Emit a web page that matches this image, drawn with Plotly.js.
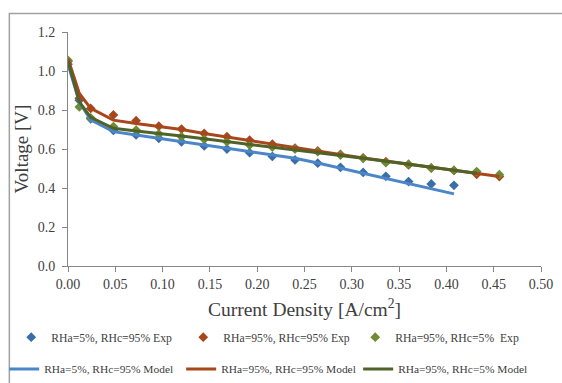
<!DOCTYPE html>
<html>
<head>
<meta charset="utf-8">
<script src="https://cdn.plot.ly/plotly-3.0.1.min.js"></script>
<style>
  html, body { margin: 0; padding: 0; background: #ffffff; }
  #chart { width: 562px; height: 383px; }
</style>
</head>
<body>
<div id="chart"></div>
<script>
// Current density values [A/cm2]
const currentDensity = [0, 0.012, 0.024, 0.048, 0.072, 0.096, 0.12, 0.144, 0.168, 0.192, 0.216, 0.24, 0.264, 0.288, 0.312, 0.336, 0.36, 0.384, 0.408, 0.432, 0.456];

// Experimental voltages [V]
const expBlue  = [1.035, 0.85, 0.755, 0.695, 0.672, 0.655, 0.637, 0.616, 0.600, 0.581, 0.562, 0.544, 0.527, 0.506, 0.480, 0.460, 0.433, 0.421, 0.414];
const expRed   = [1.05, 0.86, 0.808, 0.775, 0.745, 0.717, 0.702, 0.680, 0.663, 0.645, 0.625, 0.605, 0.590, 0.572, 0.555, 0.535, 0.518, 0.503, 0.490, 0.470, 0.459];
const expGreen = [1.055, 0.816, 0.760, 0.715, 0.697, 0.677, 0.663, 0.650, 0.637, 0.620, 0.610, 0.600, 0.586, 0.569, 0.552, 0.530, 0.522, 0.502, 0.490, 0.484, 0.468];

// Model voltages [V]
const modelBlue  = [1.035, 0.84, 0.75, 0.689, 0.672, 0.655, 0.641, 0.623, 0.605, 0.588, 0.570, 0.553, 0.528, 0.502, 0.475, 0.449, 0.422, 0.395, 0.370];
const modelRed   = [1.063, 0.885, 0.808, 0.748, 0.731, 0.717, 0.700, 0.679, 0.661, 0.643, 0.625, 0.607, 0.586, 0.570, 0.554, 0.538, 0.522, 0.507, 0.491, 0.475, 0.459];
const modelGreen = [1.05, 0.842, 0.762, 0.706, 0.692, 0.680, 0.667, 0.652, 0.638, 0.624, 0.610, 0.597, 0.583, 0.568, 0.553, 0.537, 0.522, 0.507, 0.491, 0.476];

const names = {
  expBlue: 'RHa=5%, RHc=95% Exp',
  expRed: 'RHa=95%, RHc=95% Exp',
  expGreen: 'RHa=95%, RHc=5%  Exp',
  modelBlue: 'RHa=5%, RHc=95% Model',
  modelRed: 'RHa=95%, RHc=95% Model',
  modelGreen: 'RHa=95%, RHc=5% Model'
};

const xTickVals = [0, 0.05, 0.10, 0.15, 0.20, 0.25, 0.30, 0.35, 0.40, 0.45, 0.50];
const xTickText = ['0.00', '0.05', '0.10', '0.15', '0.20', '0.25', '0.30', '0.35', '0.40', '0.45', '0.50'];
const yTickVals = [0, 0.2, 0.4, 0.6, 0.8, 1.0, 1.2];
const yTickText = ['0.0', '0.2', '0.4', '0.6', '0.8', '1.0', '1.2'];

const FONT = 'Liberation Serif';
const TXT = '#404040';

function xs(arr) { return currentDensity.slice(0, arr.length); }

function expTrace(y, name, color) {
  return {
    x: xs(y), y: y, name: name, type: 'scatter', mode: 'markers',
    marker: { symbol: 'diamond', size: 7.5, color: color },
    legend: 'legend'
  };
}
function modelTrace(y, name, color) {
  return {
    x: xs(y), y: y, name: name, type: 'scatter', mode: 'lines',
    line: { color: color, width: 3 },
    legend: 'legend2'
  };
}

const data = [
  expTrace(expBlue, names.expBlue, '#3A6EA8'),
  expTrace(expRed, names.expRed, '#A8461C'),
  expTrace(expGreen, names.expGreen, '#6E8C34'),
  modelTrace(modelBlue, names.modelBlue, '#4A86C8'),
  modelTrace(modelRed, names.modelRed, '#A8461C'),
  modelTrace(modelGreen, names.modelGreen, '#4F6228')
];

const legendBase = {
  orientation: 'h', xanchor: 'left', yanchor: 'middle',
  entrywidth: 127, entrywidthmode: 'pixels',
  font: { family: FONT, size: 11.7, color: TXT }, bgcolor: 'rgba(0,0,0,0)', itemwidth: 30
};

const layout = {
  width: 562, height: 383,
  margin: { l: 68, r: 21, t: 31.5, b: 116.5, autoexpand: false },
  paper_bgcolor: '#ffffff', plot_bgcolor: '#ffffff',
  font: { family: FONT, color: TXT, size: 13 },
  showlegend: true,
  xaxis: {
    range: [0, 0.5], tickvals: xTickVals, ticktext: xTickText,
    showgrid: false, zeroline: false, showline: true, linecolor: '#868686', linewidth: 1,
    ticks: 'outside', ticklen: 5, tickcolor: '#868686',
    tickfont: { family: FONT, size: 14, color: TXT },
    title: { text: 'Current Density [A/cm<sup>2</sup>]', font: { family: FONT, size: 19.5, color: TXT }, standoff: 11 },
    automargin: false, fixedrange: true
  },
  yaxis: {
    range: [0, 1.2], tickvals: yTickVals, ticktext: yTickText,
    showgrid: false, zeroline: false, showline: true, linecolor: '#868686', linewidth: 1,
    ticks: 'outside', ticklen: 5, tickcolor: '#868686', ticklabelstandoff: 4,
    tickfont: { family: FONT, size: 14, color: TXT },
    title: { text: 'Voltage [V]', font: { family: FONT, size: 19, color: TXT }, standoff: 4 },
    automargin: false, fixedrange: true
  },
  legend: Object.assign({}, legendBase, { x: -0.12, y: -0.304 }),
  legend2: Object.assign({}, legendBase, {
    x: -0.135, y: -0.44, entrywidth: 132,
    font: { family: FONT, size: 11.4, color: TXT }
  }),
  shapes: [{
    type: 'rect', xref: 'paper', yref: 'paper', layer: 'below',
    x0: -0.124, x1: 1.2, y0: -0.7, y1: 1.0787,
    line: { color: '#A0A0A0', width: 1.5 }, fillcolor: 'rgba(0,0,0,0)'
  }]
};

Plotly.newPlot('chart', data, layout, { displayModeBar: false, staticPlot: true });
</script>
</body>
</html>
